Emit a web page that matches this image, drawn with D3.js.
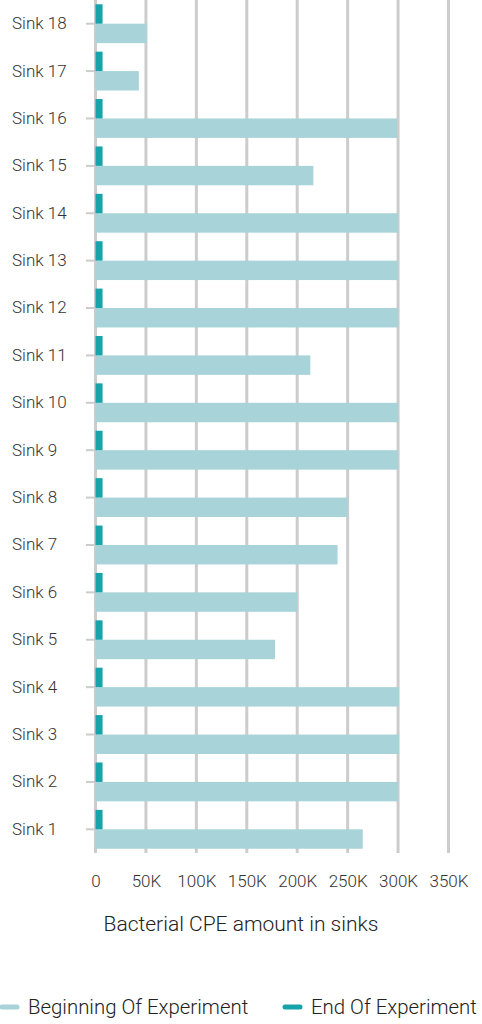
<!DOCTYPE html>
<html>
<head>
<meta charset="utf-8">
<script src="https://cdn.jsdelivr.net/npm/d3@7"></script>
<style>
  html, body { margin: 0; padding: 0; background: #fff; }
  svg { display: block; font-family: Roboto, "Open Sans", sans-serif; font-weight: 300; }
</style>
</head>
<body>
<svg id="chart" width="482" height="1024"></svg>
<script>
// Sinks listed top to bottom
const sinks = ["Sink 18","Sink 17","Sink 16","Sink 15","Sink 14","Sink 13","Sink 12","Sink 11","Sink 10",
               "Sink 9","Sink 8","Sink 7","Sink 6","Sink 5","Sink 4","Sink 3","Sink 2","Sink 1"];
// CPE amount at the beginning of the experiment
const beginning = [51000, 43000, 299000, 216000, 300000, 300000, 300000, 213000, 300000,
                   300000, 250000, 240000, 200000, 178000, 301000, 301000, 300000, 265000];
// CPE amount at the end of the experiment
const ending = [7000, 7000, 7000, 7000, 7000, 7000, 7000, 7000, 7000,
                7000, 7000, 7000, 7000, 7000, 7000, 7000, 7000, 7000];
const xTicks = [0, 50000, 100000, 150000, 200000, 250000, 300000, 350000];
const xTickLabels = ["0", "50K", "100K", "150K", "200K", "250K", "300K", "350K"];
const seriesNames = ["Beginning Of Experiment", "End Of Experiment"];
const seriesColors = ["#a8d3d8", "#16a3aa"];

const svg = d3.select("#chart");
const plotTop = 0, plotBottom = 853;

const x = d3.scaleLinear().domain([0, 350000]).range([95.5, 448.5]);
const y = d3.scaleBand().domain(sinks).range([plotTop, plotBottom]).paddingInner(0.18).paddingOuter(0.09);
const ySub = d3.scaleBand().domain(["end", "begin"]).range([0, y.bandwidth()]);

// vertical gridlines
svg.append("g").selectAll("line").data(xTicks).join("line")
  .attr("x1", d => x(d)).attr("x2", d => x(d))
  .attr("y1", plotTop).attr("y2", plotBottom)
  .attr("stroke", "#cccccc").attr("stroke-width", 3);

// bars
const rows = svg.append("g").selectAll("g").data(sinks).join("g")
  .attr("transform", d => `translate(0,${y(d)})`);
rows.append("rect")
  .attr("x", x(0)).attr("y", ySub("begin"))
  .attr("width", (d, i) => x(beginning[i]) - x(0))
  .attr("height", ySub.bandwidth())
  .attr("fill", seriesColors[0]);
rows.append("rect")
  .attr("x", x(0)).attr("y", ySub("end"))
  .attr("width", (d, i) => x(ending[i]) - x(0))
  .attr("height", ySub.bandwidth())
  .attr("fill", seriesColors[1]);

// y axis: short ticks, labels aligned to the left edge
const yAxis = svg.append("g").attr("transform", `translate(${x(0) - 0.5},0)`)
  .call(d3.axisLeft(y).tickSize(9).tickPadding(19));
yAxis.select(".domain").remove();
yAxis.selectAll(".tick line").attr("stroke", "#cccccc").attr("stroke-width", 2);
yAxis.selectAll(".tick text")
  .attr("x", 12 - (x(0) - 0.5)).attr("text-anchor", "start")
  .attr("fill", "#333").style("font-size", "17px")
  .style("font-family", "Roboto, sans-serif").style("font-weight", 300);

// x axis labels
const xAxis = svg.append("g").attr("transform", `translate(0,${plotBottom})`)
  .call(d3.axisBottom(x).tickValues(xTicks).tickFormat((d, i) => xTickLabels[i]).tickSize(0).tickPadding(22));
xAxis.select(".domain").remove();
xAxis.selectAll(".tick text").attr("fill", "#333").style("font-size", "17px")
  .style("font-family", "Roboto, sans-serif").style("font-weight", 300);

// axis title
svg.append("text").attr("x", 241).attr("y", 931).attr("text-anchor", "middle")
  .attr("fill", "#222").style("font-size", "21px").text("Bacterial CPE amount in sinks");

// legend
const legendItems = [{ name: seriesNames[0], color: seriesColors[0], x: 2 },
                     { name: seriesNames[1], color: seriesColors[1], x: 285 }];
const lg = svg.append("g").selectAll("g").data(legendItems).join("g")
  .attr("transform", d => `translate(${d.x},1007)`);
lg.append("line").attr("x1", 0).attr("x2", 15).attr("y1", 0).attr("y2", 0)
  .attr("stroke", d => d.color).attr("stroke-width", 5).attr("stroke-linecap", "round");
lg.append("text").attr("x", 26).attr("y", 7).attr("fill", "#222")
  .style("font-size", "20.4px").text(d => d.name);
</script>
</body>
</html>
